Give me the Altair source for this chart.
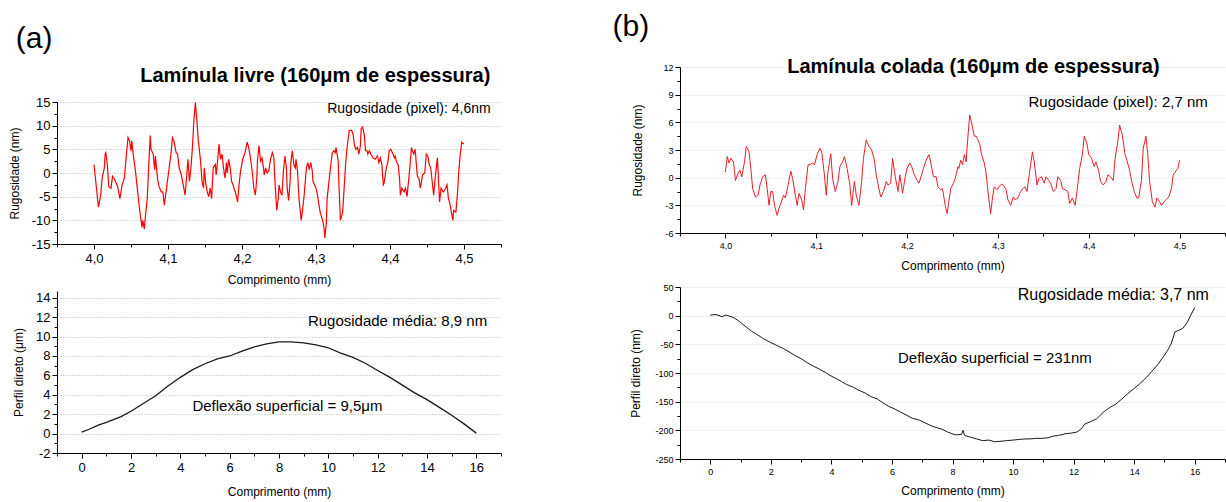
import altair as alt
import pandas as pd

FONT = "Liberation Sans"

# ---------------- (a) top: roughness, free coverslip ----------------
a_top_x = [4.000,4.006,4.009,4.011,4.014,4.015,4.016,4.018,4.020,4.023,4.025,4.027,4.029,4.032,4.035,4.038,4.041,4.044,4.046,4.048,
           4.050,4.051,4.053,4.056,4.059,4.062,4.065,4.066,4.068,4.070,4.072,4.074,4.076,4.077,4.080,4.082,4.083,4.086,4.088,4.091,
           4.093,4.095,4.098,4.101,4.104,4.106,4.108,4.111,4.113,4.115,4.118,4.121,4.123,4.125,4.127,4.129,4.131,4.133,4.135,4.137,
           4.139,4.141,4.143,4.144,4.146,4.148,4.149,4.151,4.153,4.155,4.157,4.159,4.161,4.164,4.165,4.167,4.169,4.171,4.173,4.175,
           4.177,4.179,4.180,4.182,4.184,4.186,4.188,4.189,4.191,4.194,4.196,4.198,4.201,4.204,4.207,4.209,4.211,4.212,4.214,4.216,
           4.218,4.220,4.221,4.223,4.225,4.227,4.229,4.230,4.232,4.234,4.236,4.239,4.241,4.243,4.245,4.247,4.249,4.250,4.252,4.254,
           4.256,4.258,4.260,4.261,4.263,4.265,4.266,4.268,4.270,4.272,4.273,4.275,4.277,4.280,4.282,4.284,4.287,4.289,4.291,4.293,
           4.295,4.296,4.298,4.300,4.302,4.304,4.306,4.309,4.311,4.312,4.314,4.315,4.318,4.320,4.322,4.324,4.326,4.327,4.330,4.331,
           4.333,4.336,4.338,4.340,4.342,4.345,4.348,4.350,4.352,4.354,4.356,4.358,4.360,4.361,4.363,4.365,4.367,4.369,4.370,4.372,
           4.374,4.377,4.380,4.383,4.385,4.387,4.389,4.391,4.392,4.395,4.397,4.399,4.401,4.404,4.406,4.407,4.409,4.411,4.413,4.414,
           4.416,4.419,4.421,4.423,4.425,4.427,4.429,4.432,4.434,4.436,4.437,4.439,4.441,4.444,4.447,4.449,4.451,4.453,4.455,4.457,
           4.459,4.461,4.464,4.465,4.467,4.469,4.472,4.474,4.477,4.479,4.481,4.483,4.485,4.486,4.489,4.491,4.493,4.495,4.497,4.500]
a_top_y = [1.8,-7.2,-4.7,-1.1,1.1,4.0,4.3,1.8,-2.9,-3.2,-0.7,-1.1,-1.8,-2.9,-5.4,-2.5,-1.1,4.3,7.5,6.8,
           4.7,6.8,4.0,0.4,-4.0,-8.3,-11.5,-10.0,-11.8,-8.3,-5.4,1.8,7.9,5.0,4.0,0.7,3.6,-1.4,-2.9,-4.0,
           -4.0,-6.8,-3.2,0.4,4.0,7.5,6.8,4.3,4.0,1.1,-0.4,-2.9,-4.7,-1.1,2.9,-1.8,1.1,5.4,11.1,14.9,
           11.1,6.8,4.0,2.5,-1.8,-3.2,1.1,-2.2,-4.0,-5.0,-3.2,-5.4,1.1,1.8,-0.4,2.5,6.1,2.9,4.0,1.1,
           -1.1,2.2,0.0,2.9,1.1,-1.8,-2.5,-3.2,-4.0,-6.1,-2.5,0.4,2.9,4.3,6.5,5.4,3.6,2.5,0.0,-3.2,
           -4.7,-1.1,2.9,5.8,2.5,3.2,1.1,-0.4,1.1,0.0,0.4,3.2,4.3,3.2,-3.2,-7.9,-5.4,-2.5,-4.0,-4.7,
           0.4,3.6,1.1,-3.2,-5.8,-1.8,2.2,4.7,1.8,1.1,2.9,0.4,-5.4,-10.0,-7.6,-4.7,1.1,2.2,0.7,2.2,
           0.4,-1.8,-2.5,-3.2,-4.7,-6.8,-8.6,-10.0,-11.8,-13.7,-10.4,-5.4,-1.1,1.8,4.3,4.7,4.3,5.4,2.5,-2.5,
           -10.0,-8.3,-3.2,1.8,5.4,9.0,9.0,8.3,5.8,5.0,5.4,4.0,5.8,9.4,9.7,8.3,4.7,4.7,4.0,4.7,
           4.0,3.2,2.9,3.6,2.2,3.2,1.8,-2.5,-2.2,1.1,2.2,4.7,5.0,4.0,3.2,3.6,2.2,1.8,-1.4,-4.7,
           -3.2,-4.0,-3.2,-5.0,-1.8,1.4,5.4,4.0,5.0,1.1,-0.7,-1.1,-3.2,-0.4,0.0,4.0,3.6,1.8,1.1,-1.8,
           -4.7,-1.1,3.2,0.4,-6.1,-3.2,-4.0,-3.6,-2.5,-5.4,-6.5,-8.3,-10.0,-7.9,-8.3,-4.7,0.4,4.0,6.5,6.1]

# ---------------- (a) bottom: direct profile ----------------
a_bot_x = [0, 0.3, 0.7, 1.0, 1.6, 2.0, 2.5, 3.0, 3.5, 4.0, 4.5, 5.0, 5.5, 6.0, 6.5, 7.0, 7.5, 8.0, 8.5,
           9.0, 9.5, 10.0, 10.5, 11.0, 11.5, 12.0, 12.5, 13.0, 13.5, 14.0, 14.5, 15.0, 15.5, 16.0]
a_bot_y = [0.15, 0.45, 0.9, 1.15, 1.75, 2.3, 3.1, 3.9, 4.9, 5.8, 6.6, 7.2, 7.7, 8.0, 8.5, 8.95, 9.25, 9.45, 9.45,
           9.35, 9.15, 8.85, 8.3, 7.85, 7.25, 6.5, 5.8, 5.0, 4.2, 3.5, 2.7, 1.9, 1.0, 0.05]

# ---------------- (b) top: roughness, glued coverslip ----------------
b_top_x = [4.000,4.002,4.004,4.006,4.009,4.011,4.014,4.016,4.018,4.021,4.023,4.026,4.028,4.030,4.033,4.036,4.038,4.041,4.044,4.046,
           4.048,4.050,4.052,4.054,4.057,4.059,4.061,4.064,4.066,4.069,4.072,4.074,4.077,4.079,4.081,4.084,4.086,4.088,4.091,4.093,
           4.096,4.098,4.101,4.104,4.106,4.109,4.111,4.113,4.116,4.118,4.121,4.124,4.126,4.129,4.131,4.134,4.137,4.139,4.142,4.144,
           4.147,4.150,4.152,4.155,4.158,4.161,4.164,4.166,4.169,4.171,4.174,4.177,4.179,4.182,4.184,4.187,4.190,4.192,4.195,4.198,
           4.200,4.203,4.205,4.208,4.211,4.213,4.216,4.218,4.221,4.224,4.226,4.229,4.232,4.234,4.237,4.239,4.242,4.244,4.246,4.248,
           4.251,4.253,4.256,4.257,4.259,4.261,4.263,4.265,4.266,4.268,4.269,4.272,4.274,4.276,4.278,4.280,4.282,4.285,4.287,4.289,
           4.292,4.294,4.296,4.299,4.301,4.304,4.306,4.309,4.311,4.314,4.317,4.319,4.322,4.324,4.327,4.330,4.332,4.335,4.338,4.340,
           4.343,4.345,4.348,4.351,4.353,4.356,4.358,4.361,4.364,4.366,4.369,4.371,4.374,4.377,4.379,4.382,4.385,4.387,4.390,4.393,
           4.395,4.398,4.400,4.403,4.406,4.408,4.411,4.413,4.416,4.419,4.421,4.424,4.427,4.429,4.432,4.434,4.437,4.440,4.442,4.445,
           4.447,4.450,4.453,4.455,4.458,4.460,4.463,4.465,4.467,4.470,4.473,4.475,4.478,4.480,4.483,4.485,4.488,4.491,4.493,4.495,
           4.498,4.500]
b_top_y = [0.6,2.3,1.6,2.1,1.7,-0.3,0.5,0.8,0.1,1.7,3.4,2.8,1.0,-1.2,-2.1,-1.9,-0.8,0.1,0.3,-1.2,
           -3.0,-1.5,-1.5,-3.0,-4.1,-3.3,-2.8,-1.9,-2.2,-0.8,0.7,-0.1,-1.9,-3.0,-1.7,-2.4,-3.5,-1.2,1.4,1.4,
           1.6,1.4,2.5,3.2,2.8,0.3,-1.9,0.7,2.6,-0.1,-1.5,-0.4,1.2,1.7,2.3,1.0,-0.8,-3.0,-0.4,-1.9,
           -3.0,-0.4,2.1,4.1,3.4,3.0,1.9,0.3,-1.2,-2.1,-1.5,-0.4,-0.8,-0.6,2.1,0.1,-1.5,0.3,-1.7,0.1,
           1.0,1.6,1.2,0.3,-0.3,-0.6,0.3,1.0,1.9,2.5,1.7,0.1,0.1,-1.0,-1.3,-1.2,-3.0,-3.9,-2.6,-1.2,
           -0.6,-0.1,1.2,1.0,1.9,1.4,2.5,1.7,3.2,5.7,6.8,5.5,4.5,4.5,4.1,3.6,2.5,1.6,0.5,-1.5,
           -3.9,-2.2,-1.0,-1.3,-1.0,-0.7,-0.8,-1.3,-2.4,-3.0,-2.1,-2.4,-2.2,-1.7,-1.2,-1.0,-1.5,0.7,2.8,1.7,
           -0.8,-0.1,0.1,-0.6,0.1,-0.3,-0.6,-1.5,-1.2,0.1,-0.3,-1.2,-1.3,-1.5,-2.8,-2.2,-3.0,-1.5,1.0,2.5,
           4.5,3.7,2.5,2.1,1.2,1.7,0.7,-0.4,-0.8,-0.4,0.3,0.1,-0.3,2.1,3.9,5.7,4.6,2.5,1.9,0.8,
           -0.3,-1.5,-2.2,-2.2,-0.3,3.2,4.5,2.5,-0.4,-2.6,-3.2,-2.2,-2.6,-3.0,-2.6,-2.4,-2.1,-1.2,0.3,0.6,
           1.0,1.9]

# ---------------- (b) bottom: direct profile ----------------
b_bot_x = [0, 0.19, 0.39, 0.5, 0.58, 0.78, 0.97, 1.17, 1.36, 1.55, 1.75, 2.0, 2.2, 2.4, 2.6, 2.78, 3.0, 3.17, 3.4, 3.56,
           3.8, 3.95, 4.2, 4.34, 4.5, 4.73, 4.9, 5.12, 5.3, 5.51, 5.7, 5.89, 6.1, 6.28, 6.5, 6.67, 6.9, 7.06, 7.25, 7.45,
           7.65, 7.84, 8.1, 8.3, 8.35, 8.4, 8.6, 8.8, 8.99, 9.2, 9.39, 9.6, 9.78, 10.0, 10.17, 10.4, 10.56, 10.75, 10.95, 11.15,
           11.33, 11.5, 11.72, 11.9, 12.11, 12.24, 12.37, 12.55, 12.76, 13.01, 13.2, 13.4, 13.6, 13.79, 14.0, 14.18, 14.4, 14.57, 14.8, 14.96,
           15.1, 15.22, 15.35, 15.5, 15.61, 15.75, 15.87, 16.0]
b_bot_y = [1, 2, -2, 1, 0, -3.5, -10.5, -19, -27, -33, -40, -47, -52, -57, -63, -69, -75, -81, -88, -92,
           -99, -104, -111, -115, -120, -125, -130, -135, -141, -145, -152, -158, -163, -168, -174, -179, -182, -186, -191, -195,
           -198, -203, -208, -207, -200, -209, -212, -215, -218, -217, -220, -219, -218, -217, -216, -215, -215, -214, -214, -213,
           -210, -209, -206, -205, -203, -198, -189, -185, -180, -167, -160, -154, -145, -136, -127, -119, -108, -98, -84, -72,
           -61, -49, -28, -25, -22, -12, 1, 14]

# ---------------- annotations (data coordinates) ----------------
a_top_notes = ["Rugosidade (pixel): 4,6nm"]; a_top_notes_x = [4.536]; a_top_notes_y = [13.5]
a_label = ["(a)"]; a_label_x = [3.919]; a_label_y = [28.4]
a_title = ["Lamínula livre (160μm de espessura)"]; a_title_x = [4.299]; a_title_y = [20.4]
a_bot_note1 = ["Rugosidade média: 8,9 nm"]; a_bot_note1_x = [16.44]; a_bot_note1_y = [11.6]
a_bot_note2 = ["Deflexão superficial = 9,5μm"]; a_bot_note2_x = [8.34]; a_bot_note2_y = [2.85]
b_top_notes = ["Rugosidade (pixel): 2,7 nm"]; b_top_notes_x = [4.531]; b_top_notes_y = [8.2]
b_label = ["(b)"]; b_label_x = [3.896]; b_label_y = [16.3]
b_title = ["Lamínula colada (160μm de espessura)"]; b_title_x = [4.273]; b_title_y = [12.0]
b_bot_note1 = ["Rugosidade média: 3,7 nm"]; b_bot_note1_x = [16.47]; b_bot_note1_y = [36]
b_bot_note2 = ["Deflexão superficial = 231nm"]; b_bot_note2_x = [9.4]; b_bot_note2_y = [-73]

# tick values
top_x_ticks = [4.0, 4.1, 4.2, 4.3, 4.4, 4.5]
top_x_minor = [3.95, 4.05, 4.15, 4.25, 4.35, 4.45, 4.55]
bot_x_ticks = [0, 2, 4, 6, 8, 10, 12, 14, 16]
bot_x_minor = [-1, 1, 3, 5, 7, 9, 11, 13, 15, 17]
a_top_y_ticks = [-15, -10, -5, 0, 5, 10, 15]
a_top_y_minor = [-12.5, -7.5, -2.5, 2.5, 7.5, 12.5]
a_bot_y_ticks = [-2, 0, 2, 4, 6, 8, 10, 12, 14]
a_bot_y_minor = [-1, 1, 3, 5, 7, 9, 11, 13]
b_top_y_ticks = [-6, -3, 0, 3, 6, 9, 12]
b_top_y_minor = [-4.5, -1.5, 1.5, 4.5, 7.5, 10.5]
b_bot_y_ticks = [-250, -200, -150, -100, -50, 0, 50]
b_bot_y_minor = [-225, -175, -125, -75, -25, 25]

COMMA1 = "replace(format(datum.value, '.1f'), '.', ',')"
PLAIN = "'' + datum.value"


def text_layer(xs, ys, texts, xsc, ysc, size, align, weight="normal"):
    df = pd.DataFrame({"x": xs, "y": ys, "t": texts})
    return alt.Chart(df).mark_text(fontSize=size, align=align, baseline="middle",
                                   fontWeight=weight, font=FONT, color="black").encode(
        x=alt.X("x:Q", scale=xsc, axis=None),
        y=alt.Y("y:Q", scale=ysc, axis=None),
        text="t:N",
    )


def panel(xs, ys, xdom, ydom, xticks, xminor, yticks, yminor, xlabel_expr, ytitle,
          color, stroke, label_size, grid_color, grid_dash, ytitle_pad, xtitle_pad, extra, w, h):
    xsc = alt.Scale(domain=xdom, nice=False, zero=False)
    ysc = alt.Scale(domain=ydom, nice=False, zero=False)
    df = pd.DataFrame({"x": xs, "y": ys})
    main = alt.Chart(df).mark_line(color=color, strokeWidth=stroke).encode(
        x=alt.X("x:Q", scale=xsc, axis=alt.Axis(
            values=xticks, labelExpr=xlabel_expr, title="Comprimento (mm)", orient="bottom",
            grid=False, tickSize=5, labelFontSize=label_size, labelPadding=3,
            titlePadding=xtitle_pad, labelFlush=False, labelOverlap=False)),
        y=alt.Y("y:Q", scale=ysc, axis=alt.Axis(
            values=yticks, labelExpr=PLAIN, title=ytitle, orient="left",
            grid=True, gridColor=grid_color, gridDash=grid_dash, gridWidth=1,
            tickSize=5, labelFontSize=label_size, labelPadding=2,
            titlePadding=ytitle_pad, labelFlush=False, labelOverlap=False)),
    )
    minor = alt.Chart(df).mark_line(strokeOpacity=0).encode(
        x=alt.X("x:Q", scale=xsc, axis=alt.Axis(
            values=xminor, labels=False, domain=False, grid=False, tickSize=3,
            title="", orient="bottom")),
        y=alt.Y("y:Q", scale=ysc, axis=alt.Axis(
            values=yminor, labels=False, domain=False, grid=False, tickSize=3,
            title="", orient="left")),
    )
    layers = [main, minor] + [text_layer(*e[:3], xsc, ysc, *e[3:]) for e in extra]
    return alt.layer(*layers).resolve_axis(x="independent", y="independent").properties(width=w, height=h)


a_top = panel(a_top_x, a_top_y, [3.95, 4.55], [-15, 15], top_x_ticks, top_x_minor,
              a_top_y_ticks, a_top_y_minor, COMMA1, "Rugosidade (nm)",
              "#ff0000", 1.2, 13, "#b4b4b4", [1, 2], 10, 9,
              [(a_top_notes_x, a_top_notes_y, a_top_notes, 14, "right"),
               (a_label_x, a_label_y, a_label, 30, "center"),
               (a_title_x, a_title_y, a_title, 20, "center", "bold")],
              444, 142)

a_bot = panel(a_bot_x, a_bot_y, [-1, 17], [-2, 14.7], bot_x_ticks, bot_x_minor,
              a_bot_y_ticks, a_bot_y_minor, PLAIN, "Perfil direto (μm)",
              "#1a1a1a", 1.3, 13, "#b4b4b4", [1, 2], 10, 12,
              [(a_bot_note1_x, a_bot_note1_y, a_bot_note1, 15, "right"),
               (a_bot_note2_x, a_bot_note2_y, a_bot_note2, 15, "center")],
              444, 162)

b_top = panel(b_top_x, b_top_y, [3.95, 4.55], [-6, 12], top_x_ticks, top_x_minor,
              b_top_y_ticks, b_top_y_minor, COMMA1, "Rugosidade (nm)",
              "#e8202a", 1.0, 9, "#ececec", [1, 0], 18, 10,
              [(b_top_notes_x, b_top_notes_y, b_top_notes, 15, "right"),
               (b_label_x, b_label_y, b_label, 30, "center"),
               (b_title_x, b_title_y, b_title, 20, "center", "bold")],
              545, 166)

b_bot = panel(b_bot_x, b_bot_y, [-1, 17], [-250, 50], bot_x_ticks, bot_x_minor,
              b_bot_y_ticks, b_bot_y_minor, PLAIN, "Perfil direto (nm)",
              "#1a1a1a", 1.0, 9, "#ececec", [1, 0], 12, 9,
              [(b_bot_note1_x, b_bot_note1_y, b_bot_note1, 16, "right"),
               (b_bot_note2_x, b_bot_note2_y, b_bot_note2, 15, "center")],
              545, 172)

spacer = alt.Chart(pd.DataFrame({"v": [0]})).mark_point(opacity=0).encode(
    x=alt.X("v:Q", axis=None), y=alt.Y("v:Q", axis=None)).properties(width=444, height=35)

left = alt.vconcat(spacer, alt.vconcat(a_top, a_bot, spacing=47, bounds="flush"),
                   spacing=0, bounds="flush")
right = alt.vconcat(b_top, b_bot, spacing=54, bounds="flush")

# nested concat groups count as zero width in flush layout, so the spacing is
# the full offset from the left plots' origin to the right plots' origin
chart = alt.hconcat(left, right, spacing=623, bounds="flush").properties(
    padding={"left": 8, "top": 12, "right": 0, "bottom": 4},
    background="white",
).configure_view(strokeWidth=0).configure_axis(
    domainColor="black", domainWidth=1, tickColor="black", tickWidth=1,
    labelColor="black", titleColor="black", labelFont=FONT, titleFont=FONT,
    titleFontSize=12, titleFontWeight="normal",
).configure_text(font=FONT)

chart.save("out.html", embed_options={"renderer": "svg", "actions": False})
